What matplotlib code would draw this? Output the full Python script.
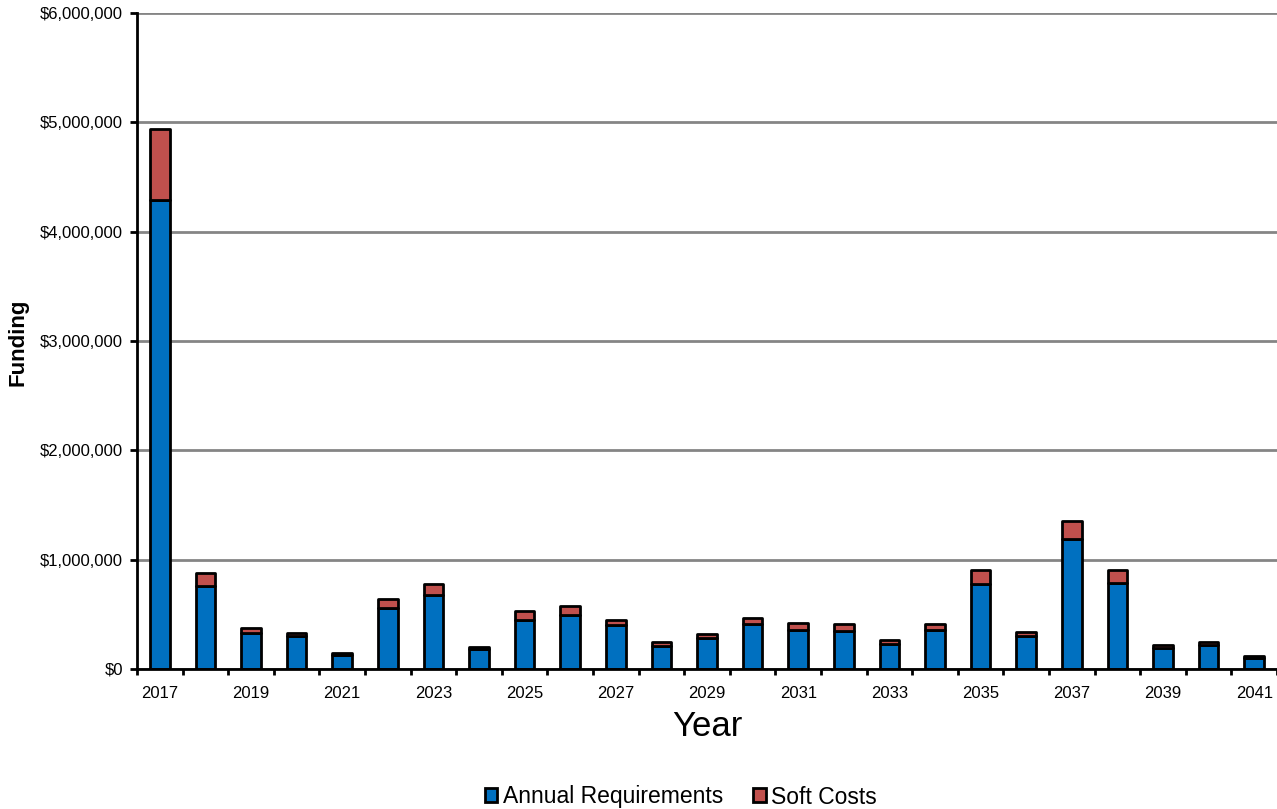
import matplotlib.pyplot as plt
import numpy as np

plt.rcParams['font.family'] = ['Liberation Sans', 'DejaVu Sans']

years = list(range(2017, 2042))
annual_req = [4.29, 0.76, 0.33, 0.30, 0.13, 0.56, 0.68, 0.18, 0.45, 0.49,
              0.40, 0.21, 0.28, 0.41, 0.36, 0.35, 0.226, 0.36, 0.78, 0.30,
              1.186, 0.79, 0.195, 0.22, 0.10]
soft_costs = [0.65, 0.12, 0.045, 0.03, 0.016, 0.08, 0.095, 0.02, 0.08, 0.086,
              0.05, 0.04, 0.04, 0.06, 0.06, 0.06, 0.039, 0.05, 0.125, 0.04,
              0.168, 0.115, 0.025, 0.03, 0.02]
annual_req = np.array(annual_req) * 1e6
soft_costs = np.array(soft_costs) * 1e6
yticks = np.arange(0, 6000001, 1000000)

blue = '#0070C0'
red = '#C0504D'

fig = plt.figure(figsize=(12.77, 8.09), dpi=100)
ax = fig.add_axes([137/1277, 140/809, 1 - 137/1277, 656/809])

x = np.arange(len(years))
ax.bar(x, annual_req, width=0.43, color=blue, edgecolor='black', linewidth=2,
       label='Annual Requirements', zorder=3, joinstyle='round')
ax.bar(x, soft_costs, width=0.43, bottom=annual_req, color=red, edgecolor='black',
       linewidth=2, label='Soft Costs', zorder=3, joinstyle='round')

# last category runs past the right edge of the figure
ax.set_xlim(-0.5, 24.2)
ax.set_ylim(0, 6000000)
ax.set_yticks(yticks)
ax.set_yticklabels(['${:,.0f}'.format(v) for v in yticks], fontsize=12)
ax.yaxis.grid(True, color='#858585', linewidth=2, zorder=0)

# category labels every other year, ticks at category boundaries
ax.set_xticks(x[::2])
ax.set_xticklabels([str(y) for y in years[::2]], fontsize=12)
ax.tick_params(axis='x', length=0, pad=12)
ax.set_xticks(np.arange(-0.5, 25, 1), minor=True)
ax.tick_params(axis='x', which='minor', length=4, width=2, direction='out')
ax.tick_params(axis='y', length=5, width=2, direction='out', pad=5)

for s in ['top', 'right']:
    ax.spines[s].set_visible(False)
ax.spines['left'].set_linewidth(2)
ax.spines['bottom'].set_linewidth(2)
ax.spines['bottom'].set_zorder(4)

ax.set_xlabel('Year', fontsize=25, labelpad=7)
fig.text(18/1277, 1 - 342/809, 'Funding', rotation=90, fontsize=16,
         fontweight='bold', ha='center', va='center')

fig.legend(loc='center', bbox_to_anchor=(681/1277, 1 - 797/809), ncol=2,
           frameon=False, fontsize=16.5, handlelength=0.55, handleheight=0.55,
           handletextpad=0.25, columnspacing=1.3)

fig.savefig('out.png', dpi=100)
